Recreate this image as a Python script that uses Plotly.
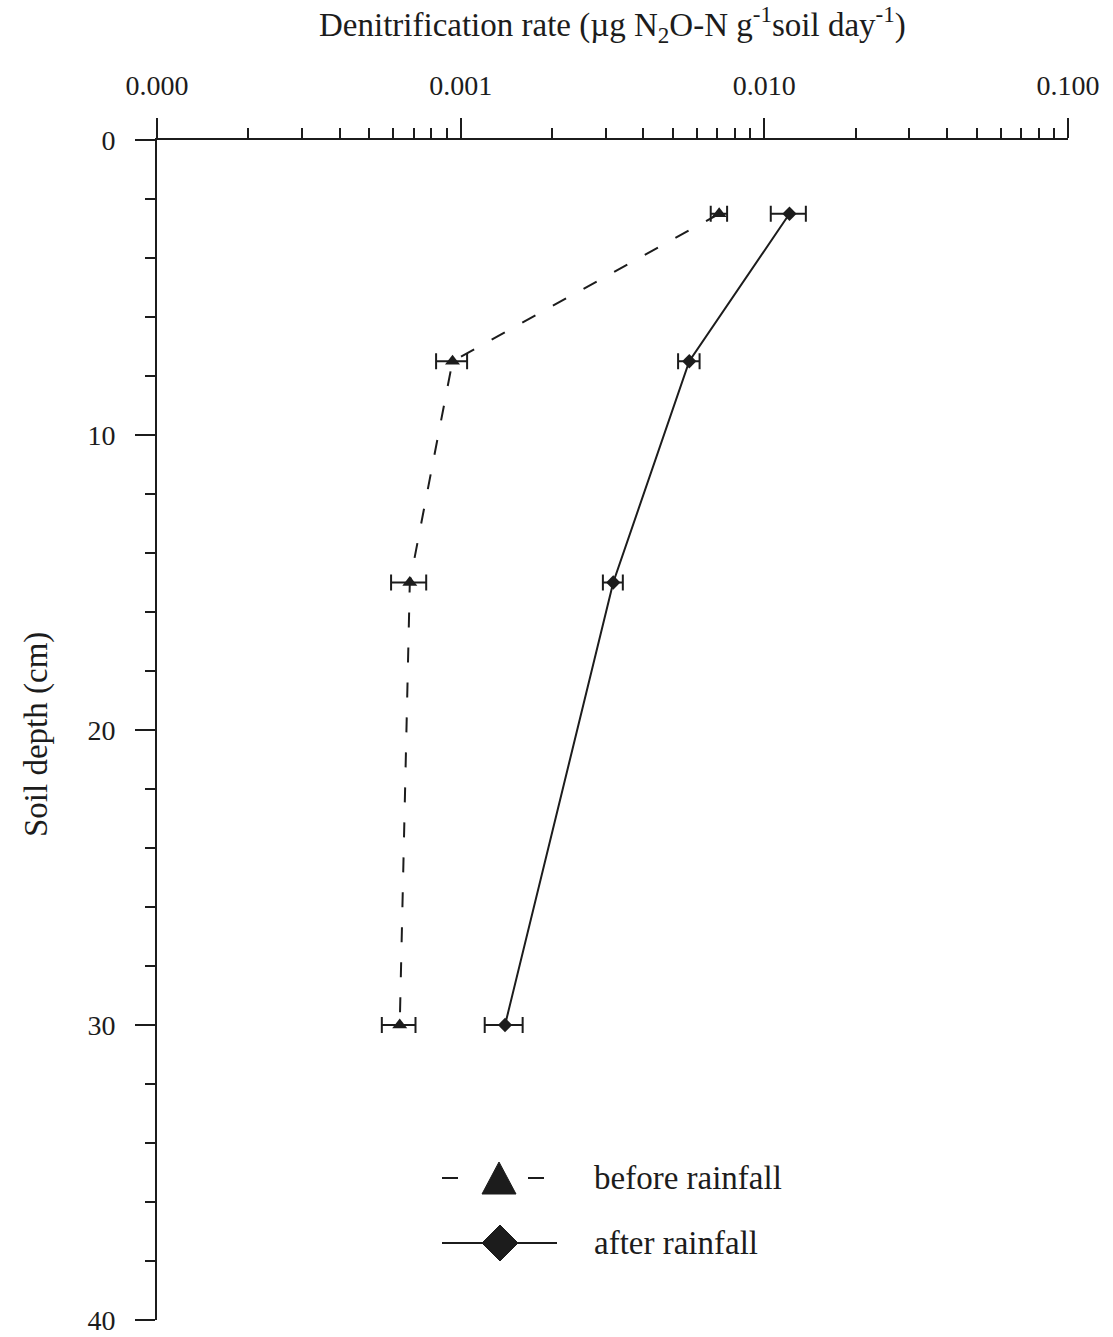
import plotly.graph_objects as go

# ---- data ----
depth = [2.5, 7.5, 15, 30]
before_rate = [0.0071, 0.00094, 0.00068, 0.00063]
before_err = [0.00044, 0.00011, 0.00009, 0.00008]
after_rate = [0.0121, 0.00566, 0.00318, 0.0014]
after_err = [0.0016, 0.00046, 0.00024, 0.0002]

x_tick_vals = [0.0001, 0.001, 0.01, 0.1]
x_tick_text = ["0.000", "0.001", "0.010", "0.100"]
x_minor_vals = [m * d for d in [0.0001, 0.001, 0.01] for m in range(2, 10)]
y_tick_vals = [0, 10, 20, 30, 40]

FONT = "Liberation Serif"
INK = "#1c1c1c"

W, H = 1113, 1337
L, R, T, B = 157, 45, 140, 17
PW, PH = W - L - R, H - T - B


def px(x):
    return (x - L) / PW


def py(y):
    return (H - B - y) / PH


fig = go.Figure()

fig.add_trace(go.Scatter(
    x=before_rate, y=depth, mode="lines+markers", name="before rainfall",
    line=dict(color=INK, width=2, dash="15px,20px"),
    marker=dict(symbol="triangle-up", size=13, color=INK),
    error_x=dict(type="data", array=before_err, color=INK, thickness=2, width=8),
))
fig.add_trace(go.Scatter(
    x=after_rate, y=depth, mode="lines+markers", name="after rainfall",
    line=dict(color=INK, width=2),
    marker=dict(symbol="diamond", size=11, color=INK),
    error_x=dict(type="data", array=after_err, color=INK, thickness=2, width=8),
))

# ---- custom legend (paper coordinates) ----
shapes = []
ly1 = 1178
shapes.append(dict(type="line", xref="paper", yref="paper",
                   x0=px(442), x1=px(458), y0=py(ly1), y1=py(ly1),
                   line=dict(color=INK, width=2)))
shapes.append(dict(type="line", xref="paper", yref="paper",
                   x0=px(528), x1=px(544), y0=py(ly1), y1=py(ly1),
                   line=dict(color=INK, width=2)))
tri = [(499, 1162), (482, 1194), (516, 1194)]
shapes.append(dict(type="path", xref="paper", yref="paper",
                   path="M {} {} L {} {} L {} {} Z".format(
                       px(tri[0][0]), py(tri[0][1]), px(tri[1][0]), py(tri[1][1]),
                       px(tri[2][0]), py(tri[2][1])),
                   fillcolor=INK, line=dict(color=INK, width=1)))
ly2 = 1243
shapes.append(dict(type="line", xref="paper", yref="paper",
                   x0=px(442), x1=px(557), y0=py(ly2), y1=py(ly2),
                   line=dict(color=INK, width=2)))
dia = [(500, ly2 - 18), (518, ly2), (500, ly2 + 18), (482, ly2)]
shapes.append(dict(type="path", xref="paper", yref="paper",
                   path="M {} {} L {} {} L {} {} L {} {} Z".format(
                       px(dia[0][0]), py(dia[0][1]), px(dia[1][0]), py(dia[1][1]),
                       px(dia[2][0]), py(dia[2][1]), px(dia[3][0]), py(dia[3][1])),
                   fillcolor=INK, line=dict(color=INK, width=1)))

annotations = [
    dict(text="before rainfall", xref="paper", yref="paper", x=px(592), y=py(ly1),
         xanchor="left", yanchor="middle", showarrow=False,
         font=dict(family=FONT, size=33, color=INK)),
    dict(text="after rainfall", xref="paper", yref="paper", x=px(592), y=py(ly2),
         xanchor="left", yanchor="middle", showarrow=False,
         font=dict(family=FONT, size=33, color=INK)),
    dict(text="Denitrification rate (\u00b5g N<sub>2</sub>O-N g<sup>-1</sup>soil day<sup>-1</sup>)",
         xref="paper", yref="paper", x=0.5, y=py(24),
         xanchor="center", yanchor="middle", showarrow=False,
         font=dict(family=FONT, size=33, color=INK)),
    dict(text="Soil depth (cm)", xref="paper", yref="paper", x=px(36), y=py(735),
         xanchor="center", yanchor="middle", showarrow=False, textangle=-90,
         font=dict(family=FONT, size=33, color=INK)),
]

fig.update_layout(
    width=W, height=H,
    margin=dict(l=L, r=R, t=T, b=B, autoexpand=False),
    paper_bgcolor="white", plot_bgcolor="white",
    showlegend=False,
    shapes=shapes, annotations=annotations,
    font=dict(family=FONT, color=INK),
)

fig.update_xaxes(
    type="log", range=[-4, -1], side="top", automargin=False,
    showgrid=False, zeroline=False,
    showline=True, linecolor=INK, linewidth=2,
    ticks="outside", ticklen=20, tickwidth=2, tickcolor=INK,
    tickmode="array", tickvals=x_tick_vals, ticktext=x_tick_text,
    tickfont=dict(family=FONT, size=28, color=INK),
    ticklabelstandoff=12, ticklabeloverflow="allow",
    minor=dict(ticks="outside", ticklen=10, tickwidth=2, tickcolor=INK,
               tickmode="array", tickvals=x_minor_vals, showgrid=False),
)
fig.update_yaxes(
    range=[40, 0], automargin=False,
    showgrid=False, zeroline=False,
    showline=True, linecolor=INK, linewidth=2,
    ticks="outside", ticklen=20, tickwidth=2, tickcolor=INK,
    tickmode="array", tickvals=y_tick_vals,
    tickfont=dict(family=FONT, size=28, color=INK),
    ticklabelstandoff=14, ticklabeloverflow="allow",
    minor=dict(ticks="outside", ticklen=10, tickwidth=2, tickcolor=INK,
               dtick=2, showgrid=False),
)

fig.write_html("out.html")
